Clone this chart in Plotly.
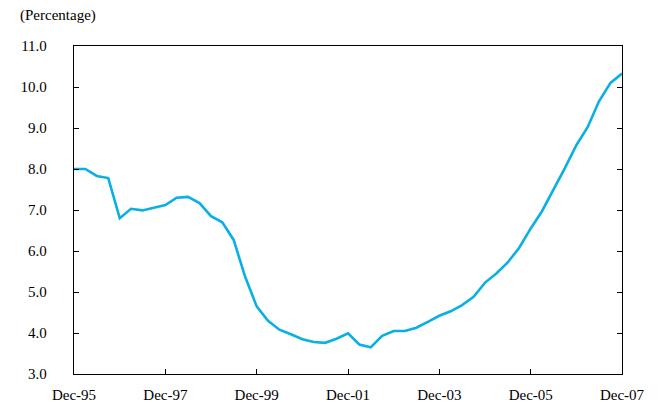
import plotly.graph_objects as go
import pandas as pd

quarters = pd.date_range("1995-12-31", periods=49, freq="QE-DEC")
values = [8.00, 8.00, 7.83, 7.78, 6.80, 7.03, 6.99, 7.06, 7.12, 7.30,
          7.32, 7.17, 6.85, 6.70, 6.27, 5.37, 4.65, 4.30, 4.08, 3.97,
          3.85, 3.78, 3.76, 3.86, 3.99, 3.72, 3.65, 3.93, 4.05, 4.05,
          4.13, 4.27, 4.42, 4.53, 4.68, 4.88, 5.23, 5.45, 5.72, 6.08,
          6.55, 6.97, 7.48, 8.02, 8.58, 9.02, 9.65, 10.10, 10.33]
x_tick_labels = ["Dec-95", "Dec-97", "Dec-99", "Dec-01", "Dec-03", "Dec-05", "Dec-07"]
x_tick_dates = pd.to_datetime(["1995-12-31", "1997-12-31", "1999-12-31", "2001-12-31",
                               "2003-12-31", "2005-12-31", "2007-12-31"])
y_ticks = [3, 4, 5, 6, 7, 8, 9, 10, 11]

fig = go.Figure()
fig.add_trace(go.Scatter(x=quarters, y=values, mode="lines",
                         line=dict(color="#0AB0E4", width=2.6), hoverinfo="skip"))

font = dict(family="'Liberation Serif', 'Times New Roman', serif", size=15, color="#000000")
fig.update_layout(
    width=652, height=398,
    margin=dict(l=66, r=38, t=38, b=32),
    paper_bgcolor="white", plot_bgcolor="white",
    showlegend=False, font=font,
    xaxis=dict(range=[quarters[0], quarters[-1]], tickvals=x_tick_dates, ticktext=x_tick_labels,
               ticks="inside", ticklen=5, tickcolor="black", showline=True, linecolor="black",
               linewidth=1.3, mirror=True, showgrid=False, zeroline=False, tickfont=font,
               ticklabelstandoff=7, automargin=False),
    yaxis=dict(range=[3, 11], tickvals=y_ticks, tickformat=".1f",
               ticks="inside", ticklen=5, tickcolor="black", showline=True, linecolor="black",
               linewidth=1.3, mirror="ticks", showgrid=False, zeroline=False, tickfont=font,
               ticklabelstandoff=23, automargin=False),
    annotations=[dict(text="(Percentage)", xref="paper", yref="paper",
                      x=-0.102, y=1.0915, xanchor="left", yanchor="middle",
                      showarrow=False, font=font)],
)
fig.write_html("out.html")
